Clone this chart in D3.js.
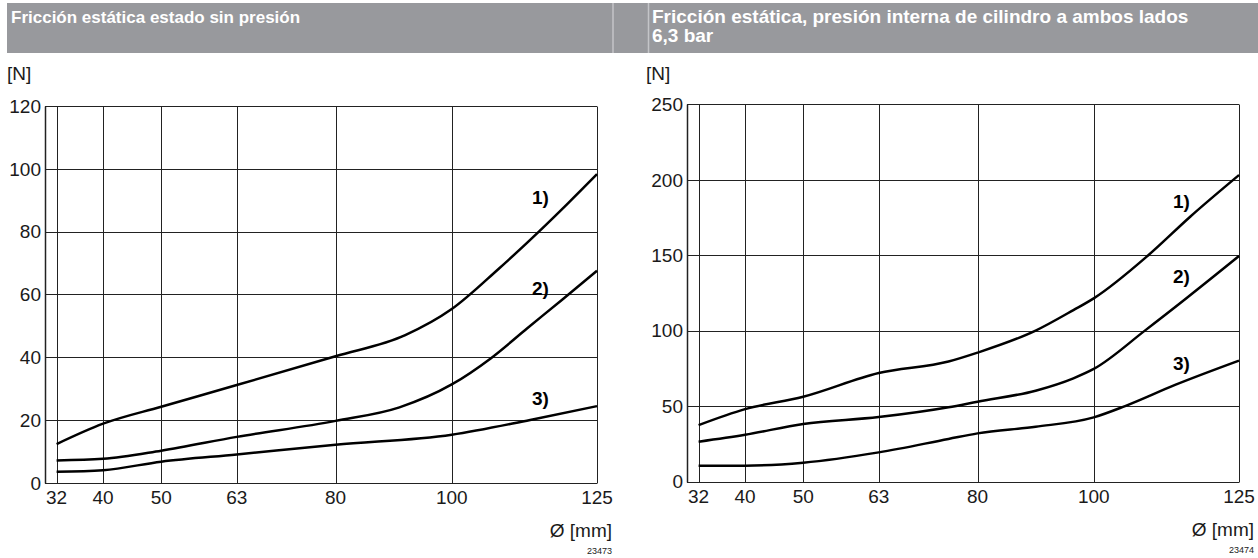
<!DOCTYPE html>
<html>
<head>
<meta charset="utf-8">
<script src="https://cdn.jsdelivr.net/npm/d3@7"></script>
<style>
  body { margin: 0; background: #fff; }
  svg text { font-family: "Liberation Sans", Arial, sans-serif; }
</style>
</head>
<body>
<div id="chart"></div>
<script>
// diameters shown on the x axis
var diameters = [32, 40, 50, 63, 80, 100, 125];
var yTicksLeft = [0, 20, 40, 60, 80, 100, 120];
var yTicksRight = [0, 50, 100, 150, 200, 250];

var titleLeft = ["Fricción estática estado sin presión"];
var titleRight = ["Fricción estática, presión interna de cilindro a ambos lados", "6,3 bar"];
var curveLabels = ["1)", "2)", "3)"];

// left chart: unpressurised
var left1X = [32, 40, 50, 63, 80, 92, 100, 108, 115, 120, 125];
var left1Y = [12.3, 18.8, 24.2, 31.1, 40.3, 47, 55.3, 68, 80, 89, 98.3];
var left2X = [32, 40, 50, 63, 80, 91, 100, 106.7, 113, 119, 125];
var left2Y = [7.1, 7.6, 10.2, 14.6, 19.7, 24, 31.3, 39.6, 49.2, 58.3, 67.5];
var left3X = [32, 40, 50, 63, 80, 100, 113.5, 125];
var left3Y = [3.5, 4.0, 6.7, 9.0, 12.1, 15.3, 20, 24.4];

// right chart: 6,3 bar both sides
var right1X = [32, 40, 50, 63, 75, 80, 90, 96.5, 100, 109.4, 116.6, 125];
var right1Y = [37.4, 48, 56.2, 71.9, 79.5, 85.4, 100, 113.6, 121.4, 150, 175.5, 203.1];
var right2X = [32, 40, 50, 63, 75, 80, 90, 96.5, 100, 108.8, 116, 125];
var right2Y = [26.4, 31, 38.1, 42.7, 49.2, 52.9, 60.2, 68.4, 74.6, 100, 121.6, 149.4];
var right3X = [32, 40, 50, 63, 75, 80, 90, 100, 105.4, 114, 125];
var right3Y = [10.5, 10.5, 12.5, 19.3, 28.2, 31.9, 36.3, 42.5, 50, 64, 80.1];

var W = 1258, H = 558;

var svg = d3.select("#chart")
    .append("svg")
    .attr("width", W)
    .attr("height", H);

// header bars
svg.append("rect").attr("x", 7).attr("y", 3).attr("width", W - 7).attr("height", 50).attr("fill", "#98999d");
svg.append("line").attr("x1", 613).attr("x2", 613).attr("y1", 3).attr("y2", 53).attr("stroke", "#c4c5c8").attr("stroke-width", 1.5);
svg.append("line").attr("x1", 648.5).attr("x2", 648.5).attr("y1", 3).attr("y2", 53).attr("stroke", "#c4c5c8").attr("stroke-width", 1.5);

function drawChart(opt){
    var x = d3.scaleLinear()
        .domain([30, 125])
        .range([opt.x0, opt.x1]);
    var y = d3.scaleLinear()
        .domain([0, opt.ymax])
        .range([opt.y0, opt.y1]);

    var g = svg.append("g");

    // header text
    g.selectAll(".title")
        .data(opt.title)
        .enter()
        .append("text")
        .attr("x", opt.tx)
        .attr("y", function(d, i){ return 23 + i * 19; })
        .attr("fill", "#fff")
        .style("font-size", opt.titleSize)
        .style("font-weight", "bold")
        .text(function(d){ return d; });

    g.append("text")
        .attr("x", opt.nx)
        .attr("y", 80)
        .attr("fill", "#1a1a1a")
        .style("font-size", "19px")
        .text("[N]");

    // grid
    g.selectAll(".hgrid")
        .data(opt.yTicks)
        .enter()
        .append("line")
        .attr("x1", x(30)).attr("x2", x(125))
        .attr("y1", function(d){ return Math.round(y(d)) + 0.5; })
        .attr("y2", function(d){ return Math.round(y(d)) + 0.5; })
        .attr("stroke", "#222")
        .attr("stroke-width", 1);

    g.selectAll(".vgrid")
        .data([30].concat(diameters))
        .enter()
        .append("line")
        .attr("x1", function(d){ return Math.round(x(d)) + 0.5; })
        .attr("x2", function(d){ return Math.round(x(d)) + 0.5; })
        .attr("y1", Math.round(y(opt.ymax)) + 0.5)
        .attr("y2", Math.round(y(0)) + 0.5)
        .attr("stroke", "#222")
        .attr("stroke-width", function(d){ return d == 30 ? 1.5 : 1; });

    // tick labels
    g.selectAll(".ylab")
        .data(opt.yTicks)
        .enter()
        .append("text")
        .attr("x", x(30) - 4)
        .attr("y", function(d){ return y(d); })
        .attr("dy", "0.36em")
        .attr("text-anchor", "end")
        .attr("fill", "#1a1a1a")
        .style("font-size", "19px")
        .text(function(d){ return d; });

    g.selectAll(".xlab")
        .data(diameters)
        .enter()
        .append("text")
        .attr("x", function(d){ return x(d); })
        .attr("y", y(0) + 21)
        .attr("text-anchor", "middle")
        .attr("fill", "#1a1a1a")
        .style("font-size", "19px")
        .text(function(d){ return d; });

    g.append("text")
        .attr("x", x(125) + 15)
        .attr("y", y(0) + 54)
        .attr("text-anchor", "end")
        .attr("fill", "#1a1a1a")
        .style("font-size", "19px")
        .text("Ø [mm]");

    g.append("text")
        .attr("x", x(125) + 15)
        .attr("y", y(0) + 71)
        .attr("text-anchor", "end")
        .attr("fill", "#1a1a1a")
        .style("font-size", "9px")
        .text(opt.code);

    // curves
    var line = d3.line()
        .x(function(d){ return x(d[0]); })
        .y(function(d){ return y(d[1]); })
        .curve(d3.curveMonotoneX);

    opt.curves.forEach(function(c, i){
        var pts = c[0].map(function(v, j){ return [v, c[1][j]]; });
        g.append("path")
            .datum(pts)
            .attr("d", line)
            .attr("fill", "none")
            .attr("stroke", "#000")
            .attr("stroke-width", 2.5)
            .attr("stroke-linejoin", "round");

        g.append("text")
            .attr("x", x(30) + opt.labelDx)
            .attr("y", opt.labelY[i])
            .attr("fill", "#000")
            .style("font-size", "19px")
            .style("font-weight", "bold")
            .text(curveLabels[i]);
    });
}

drawChart({
    x0: 45, x1: 597, y0: 482.7, y1: 106, ymax: 120,
    yTicks: yTicksLeft, title: titleLeft, titleSize: "17px", tx: 11, nx: 7,
    code: "23473", labelDx: 487, labelY: [204, 295, 405],
    curves: [[left1X, left1Y], [left2X, left2Y], [left3X, left3Y]]
});

drawChart({
    x0: 687, x1: 1239, y0: 481.5, y1: 104.3, ymax: 250,
    yTicks: yTicksRight, title: titleRight, titleSize: "19px", tx: 652, nx: 646,
    code: "23474", labelDx: 486, labelY: [208, 283, 370],
    curves: [[right1X, right1Y], [right2X, right2Y], [right3X, right3Y]]
});
</script>
</body>
</html>
